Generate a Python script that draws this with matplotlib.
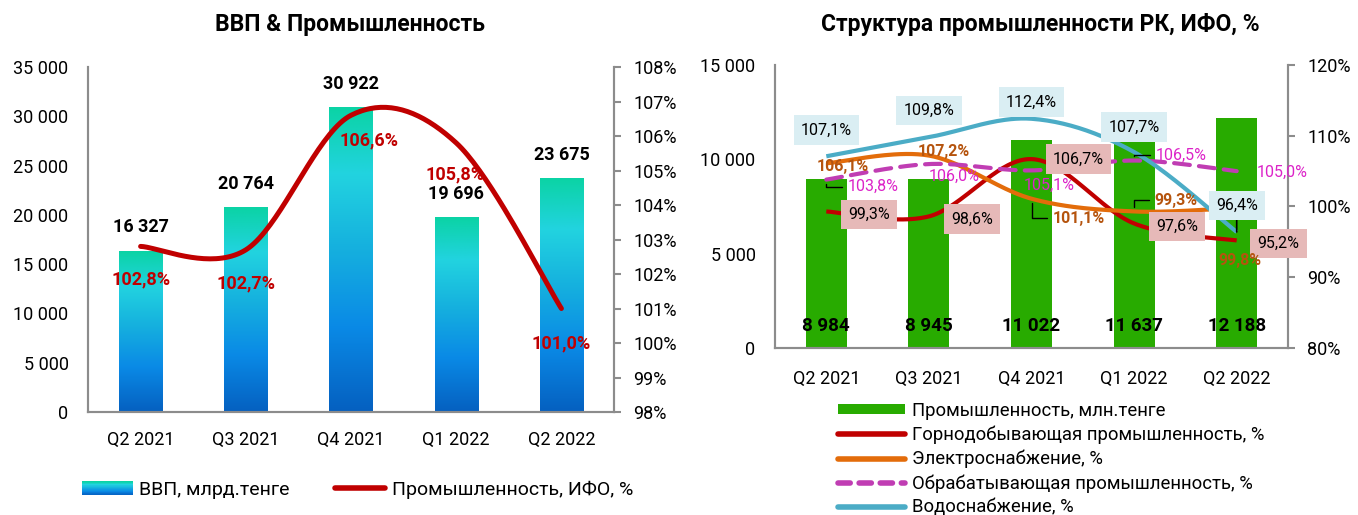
import matplotlib
matplotlib.use("Agg")
import matplotlib.pyplot as plt
import numpy as np
from matplotlib.colors import LinearSegmentedColormap
from matplotlib.legend_handler import HandlerBase
from matplotlib.patches import Rectangle, Patch
from matplotlib.lines import Line2D

plt.rcParams['font.family'] = ['Roboto', 'DejaVu Sans']

# data
quarters = ["Q2 2021", "Q3 2021", "Q4 2021", "Q1 2022", "Q2 2022"]
gdp = [16327, 20764, 30922, 19696, 23675]
industry_ifo = [102.8, 102.7, 106.6, 105.8, 101.0]

industry = [8984, 8945, 11022, 11637, 12188]
mining = [99.3, 98.6, 106.7, 97.6, 95.2]
power = [106.1, 107.2, 101.1, 99.3, 99.8]
manufacturing = [103.8, 106.0, 105.1, 106.5, 105.0]
water = [107.1, 109.8, 112.4, 107.7, 96.4]

GRAY = "#8C8C8C"
RED = "#C00000"
GREEN = "#28AB00"
ORANGE = "#E36C0A"
ORANGE_TXT = "#B5540E"
MAGENTA = "#C03DB3"
MAGENTA_TXT = "#DC23C8"
BLUE = "#4BACC6"
PINK_BOX = "#E6B9B8"
BLUE_BOX = "#DAEEF3"

grad_cmap = LinearSegmentedColormap.from_list(
    "gdp", [(0.0, "#0560C0"), (0.28, "#0A8AE6"), (0.55, "#16B2DE"),
            (0.78, "#22D3E0"), (1.0, "#0BD3A5")])


def fmt_num(v):
    return f"{v:,}".replace(",", " ")


def fmt_pct(v):
    return f"{v:.1f}%".replace(".", ",")


def smooth(xs, ys, n=40):
    # excel-like smoothed line (bezier with catmull-rom tangents)
    p = np.column_stack([xs, ys]).astype(float)
    ext = np.vstack([p[0], p, p[-1]])
    out = []
    t = np.linspace(0, 1, n)[:, None]
    for i in range(len(p) - 1):
        b0 = ext[i + 1]
        b3 = ext[i + 2]
        b1 = b0 + (ext[i + 2] - ext[i]) / 6
        b2 = b3 - (ext[i + 3] - ext[i + 1]) / 6
        seg = ((1 - t) ** 3) * b0 + 3 * ((1 - t) ** 2) * t * b1 + 3 * (1 - t) * t ** 2 * b2 + t ** 3 * b3
        out.append(seg)
    out = np.vstack(out)
    return out[:, 0], out[:, 1]


class GradientHandler(HandlerBase):
    def create_artists(self, legend, orig_handle, xdescent, ydescent,
                       width, height, fontsize, trans):
        n = 24
        arts = []
        for k in range(n):
            r = Rectangle((-xdescent, -ydescent + k * height / n), width, height / n + 0.3,
                          facecolor=grad_cmap(k / (n - 1)), lw=0, transform=trans)
            arts.append(r)
        return arts


def style_axes(ax, ax2, xpad):
    for a in (ax, ax2):
        for s in a.spines.values():
            s.set_color(GRAY)
            s.set_linewidth(1.5)
        a.spines['top'].set_visible(False)
    ax.tick_params(axis='y', length=0, pad=14, labelsize=13)
    ax.tick_params(axis='x', length=0, pad=xpad, labelsize=13)
    ax2.tick_params(axis='y', length=5, width=1.5, color=GRAY, pad=9, labelsize=13)


W, H = 1358, 515
fig = plt.figure(figsize=(W / 100, H / 100), dpi=100)

# ---------- left chart: GDP & industry ----------
ax = fig.add_axes([88 / W, 103 / H, 526 / W, 345 / H])
ax2 = ax.twinx()
x = np.arange(len(quarters))
bars = ax.bar(x, gdp, width=0.41, color='none', edgecolor='none')
grad = np.linspace(0, 1, 256)[:, None]
for rect in bars:
    x0 = rect.get_x()
    ax.imshow(grad, extent=(x0, x0 + rect.get_width(), 0, rect.get_height()),
              aspect='auto', cmap=grad_cmap, origin='lower', zorder=1)
ax.set_xlim(-0.5, len(quarters) - 0.5)
ax.set_ylim(0, 35000)
ax.set_yticks(np.arange(0, 35001, 5000))
ax.set_yticklabels([fmt_num(v) for v in range(0, 35001, 5000)])
ax.set_xticks(x)
ax.set_xticklabels(quarters)
for i, v in enumerate(gdp):
    ax.annotate(fmt_num(v), (i, v), xytext=(0, 17), textcoords='offset points',
                ha='center', va='center', fontsize=13, fontweight='bold', color='black')

sx, sy = smooth(x, industry_ifo)
ax2.plot(sx, sy, color=RED, lw=3.6, solid_capstyle='round')
ax2.set_ylim(98, 108)
ax2.set_yticks(np.arange(98, 108.1, 1))
ax2.set_yticklabels([f"{v}%" for v in range(98, 109)])
ifo_offsets = [(0, -24), (0, -24), (13, -18), (-1, -23), (0, -25)]
for i, v in enumerate(industry_ifo):
    ax2.annotate(fmt_pct(v), (i, v), xytext=ifo_offsets[i], textcoords='offset points',
                 ha='center', va='center', fontsize=13, fontweight='bold', color=RED, zorder=5)
style_axes(ax, ax2, 14)

fig.text(350 / W, 1 - 25 / H, "ВВП & Промышленность", ha='center', va='center',
         fontsize=16.5, fontweight='bold')

leg1 = fig.legend(handles=[Patch(label="ВВП, млрд.тенге"),
                           Line2D([], [], color=RED, lw=4, solid_capstyle='round',
                                  label="Промышленность, ИФО, %")],
                  handler_map={Patch: GradientHandler()},
                  loc='center left', bbox_to_anchor=(82 / W, 1 - 490 / H), ncol=2,
                  frameon=False, fontsize=14, handlelength=2.6, handletextpad=0.35,
                  columnspacing=2.3, borderpad=0, borderaxespad=0)

# ---------- right chart: industry structure ----------
ax3 = fig.add_axes([775 / W, 167 / H, 513 / W, 283 / H])
ax4 = ax3.twinx()
ax3.bar(x, industry, width=0.4, color=GREEN, zorder=1)
ax3.set_xlim(-0.5, len(quarters) - 0.5)
ax3.set_ylim(0, 15000)
ax3.set_yticks(np.arange(0, 15001, 5000))
ax3.set_yticklabels([fmt_num(v) for v in range(0, 15001, 5000)])
ax3.set_xticks(x)
ax3.set_xticklabels(quarters)
for i, v in enumerate(industry):
    ax3.annotate(fmt_num(v), (i, 0), xytext=(0, 16), textcoords='offset points',
                 ha='center', va='center', fontsize=13.5, fontweight='bold', color='black')

ax4.set_ylim(80, 120)
ax4.set_yticks(np.arange(80, 120.1, 10))
ax4.set_yticklabels([f"{v}%" for v in range(80, 121, 10)])

series = [
    (mining, RED, '-', "Горнодобывающая промышленность, %"),
    (power, ORANGE, '-', "Электроснабжение, %"),
    (manufacturing, MAGENTA, '--', "Обрабатывающая промышленность, %"),
    (water, BLUE, '-', "Водоснабжение, %"),
]
for vals, col, ls, lab in series:
    sx, sy = smooth(x, vals)
    if ls == '--':
        ax4.plot(sx, sy, color=col, lw=3, dashes=(3.8, 2.2), dash_capstyle='round')
    else:
        ax4.plot(sx, sy, color=col, lw=3, solid_capstyle='butt')

# label offsets in points (label centre relative to the point)
mining_off = [(31, -2), (31, -2), (34, 0), (31, -2), (30, -2)]
power_off = [(12, -2), (11, 3), (34, -14), (30, 8), (2, -38)]
manuf_off = [(34, -5), (18, -9), (13, -11), (34, 4), (33, -1)]
water_off = [(0, 19), (0, 19), (0, 12), (0, 18), (0, 19)]
power_lead = [False, False, True, True, False]
manuf_lead = [True, False, False, True, False]
water_lead = [False, False, False, False, True]

for i, v in enumerate(mining):
    ax4.annotate(fmt_pct(v), (i, v), xytext=mining_off[i], textcoords='offset points',
                 ha='center', va='center', fontsize=11.5, color='black', zorder=6,
                 bbox=dict(boxstyle='square,pad=0.45', fc=PINK_BOX, ec='none'))
for i, v in enumerate(power):
    ap = None
    if power_lead[i]:
        ap = dict(arrowstyle='-', color='black', lw=1, shrinkA=2, shrinkB=3,
                  connectionstyle='angle,angleA=0,angleB=90,rad=0')
    ax4.annotate(fmt_pct(v), (i, v), xytext=power_off[i], textcoords='offset points',
                 ha='center', va='center', fontsize=11.5, fontweight='bold',
                 color=ORANGE_TXT, zorder=6, arrowprops=ap)
for i, v in enumerate(manufacturing):
    ap = None
    if manuf_lead[i]:
        ap = dict(arrowstyle='-', color='black', lw=1, shrinkA=2, shrinkB=3,
                  connectionstyle='angle,angleA=0,angleB=90,rad=0')
    ax4.annotate(fmt_pct(v), (i, v), xytext=manuf_off[i], textcoords='offset points',
                 ha='center', va='center', fontsize=11.5, color=MAGENTA_TXT, zorder=6,
                 arrowprops=ap)
for i, v in enumerate(water):
    ap = None
    if water_lead[i]:
        ap = dict(arrowstyle='-', color='black', lw=1.2, shrinkA=0, shrinkB=0)
    ax4.annotate(fmt_pct(v), (i, v), xytext=water_off[i], textcoords='offset points',
                 ha='center', va='center', fontsize=11.5, color='black', zorder=7,
                 bbox=dict(boxstyle='square,pad=0.45', fc=BLUE_BOX, ec='none'),
                 arrowprops=ap)
style_axes(ax3, ax4, 16)

fig.text(1040 / W, 1 - 25 / H, "Структура промышленности РК, ИФО, %", ha='center',
         va='center', fontsize=16.5, fontweight='bold')

handles = [Patch(facecolor=GREEN, label="Промышленность, млн.тенге")]
for vals, col, ls, lab in series:
    if ls == '--':
        handles.append(Line2D([], [], color=col, lw=4, dashes=(2.2, 1.6),
                              dash_capstyle='round', label=lab))
    else:
        handles.append(Line2D([], [], color=col, lw=4, solid_capstyle='round', label=lab))
leg2 = fig.legend(handles=handles, loc='upper left', bbox_to_anchor=(838 / W, 1 - 402 / H),
                  frameon=False, fontsize=13.3, handlelength=3.6, handleheight=0.45,
                  handletextpad=0.4, labelspacing=0.31, borderpad=0, borderaxespad=0)

fig.savefig("out.png", dpi=100)
